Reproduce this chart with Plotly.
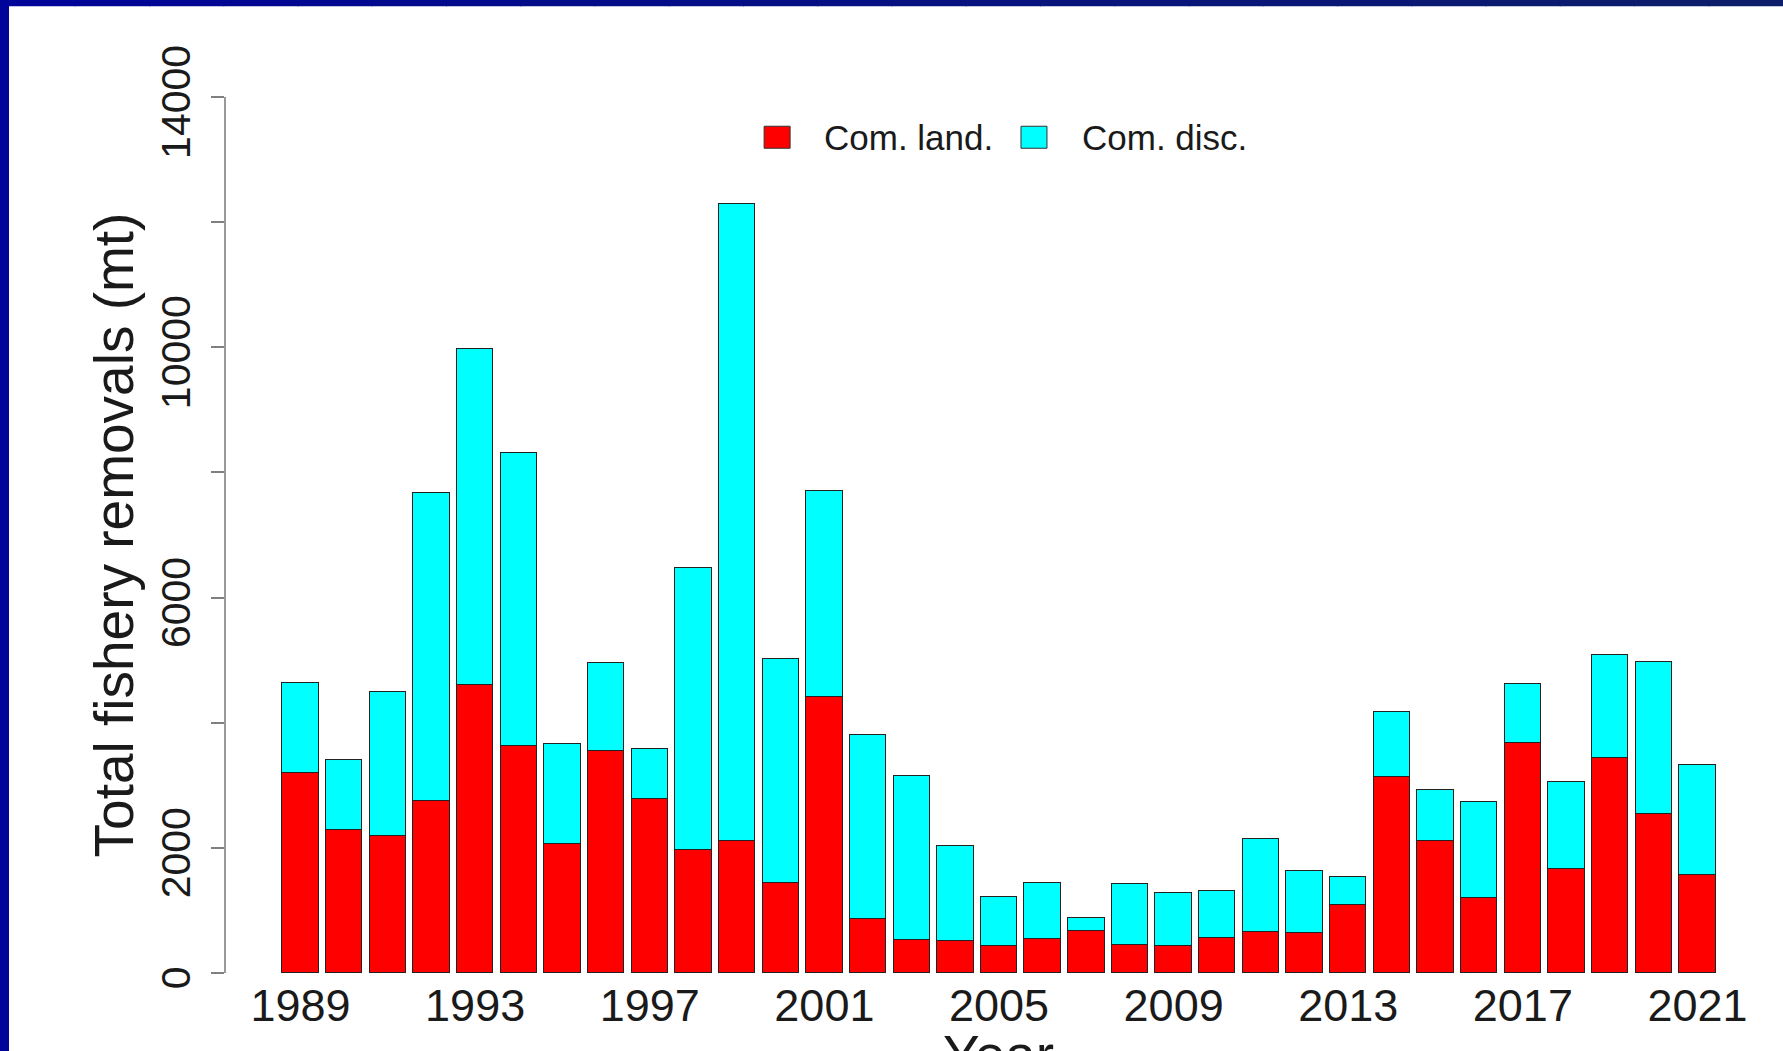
import plotly.graph_objects as go

# ---- data ----
years = list(range(1989, 2022))
com_land = [3200, 2290, 2185, 2750, 4605, 3630, 2055, 3545, 2783, 1962,
            2105, 1438, 4405, 868, 530, 508, 430, 547, 672, 449,
            430, 565, 652, 635, 1086, 3128, 2105, 1195, 3672, 1668,
            3429, 2543, 1560]
com_disc = [1430, 1110, 2305, 4920, 5375, 4680, 1610, 1405, 794, 4508,
            10185, 3584, 3295, 2942, 2620, 1514, 787, 891, 199, 972,
            847, 748, 1483, 990, 442, 1046, 821, 1533, 950, 1386,
            1649, 2422, 1758]
series_names = ["Com. land.", "Com. disc."]
series_colors = ["#FF0000", "#00FFFF"]
y_tickvals = [0, 2000, 4000, 6000, 8000, 10000, 12000, 14000]
y_ticktext = ["0", "2000", "", "6000", "", "10000", "", "14000"]
x_tickvals = [1989, 1993, 1997, 2001, 2005, 2009, 2013, 2017, 2021]
y_title = "Total fishery removals (mt)"
x_title = "Year"

# ---- layout geometry (pixels) ----
FW, FH = 1783, 1051
L, R, T, B = 224.6, 1773.4, 62.3, 1007.7
PW, PH = R - L, B - T
Y0, Y1 = -560, 14560


def px(x):
    return (x - L) / PW


def py(y):
    return (B - y) / PH


FONT = "Liberation Sans, Arial, Helvetica, sans-serif"
TXT = "#1a1a1a"

fig = go.Figure()
for name, vals, col in zip(series_names, [com_land, com_disc], series_colors):
    fig.add_trace(go.Bar(
        x=years, y=vals, name=name, width=1 / 1.2,
        marker=dict(color=col, line=dict(color="#222222", width=1.4)),
        showlegend=False,
    ))

shapes = []
# y axis line from 0 to 14000 (R style)
shapes.append(dict(type="line", xref="paper", yref="y", x0=0, x1=0,
                   y0=y_tickvals[0], y1=y_tickvals[-1],
                   line=dict(color="#808080", width=1.6)))

# blue slide border (top and left), with slight gradient along the top
n = 24
c0 = (0, 4, 152)
c1 = (12, 30, 106)
for i in range(n):
    f = i / (n - 1)
    c = tuple(int(round(c0[k] + (c1[k] - c0[k]) * f)) for k in range(3))
    xa = FW * i / n
    xb = FW * (i + 1) / n + 1
    shapes.append(dict(type="rect", xref="paper", yref="paper",
                       x0=px(xa), x1=px(xb), y0=py(6.5), y1=py(-2),
                       line=dict(width=0), fillcolor="rgb(%d,%d,%d)" % c,
                       layer="above"))
shapes.append(dict(type="rect", xref="paper", yref="paper",
                   x0=px(-2), x1=px(8.5), y0=py(FH + 2), y1=py(-2),
                   line=dict(width=0), fillcolor="rgb(0,4,152)", layer="above"))

# legend boxes
leg_y0, leg_y1 = 126.5, 148.5
for (xa, xb), col in zip([(764, 790), (1021, 1047)], series_colors):
    shapes.append(dict(type="rect", xref="paper", yref="paper",
                       x0=px(xa), x1=px(xb), y0=py(leg_y1), y1=py(leg_y0),
                       fillcolor=col, line=dict(color="#333333", width=1)))

annotations = []
for xs, name in zip([822, 1080], series_names):
    annotations.append(dict(text=name, xref="paper", yref="paper",
                            x=px(xs), y=py(137.5), xanchor="left",
                            yanchor="middle", showarrow=False,
                            font=dict(family=FONT, size=35, color=TXT)))
annotations.append(dict(text=y_title, xref="paper", yref="paper",
                        x=px(114), y=py(535), xanchor="center",
                        yanchor="middle", textangle=-90, showarrow=False,
                        font=dict(family=FONT, size=55, color=TXT)))
annotations.append(dict(text=x_title, xref="paper", yref="paper",
                        x=px(999), y=py(1022), xanchor="center",
                        yanchor="top", showarrow=False,
                        font=dict(family=FONT, size=55, color=TXT)))

fig.update_layout(
    width=FW, height=FH,
    margin=dict(l=L, r=FW - R, t=T, b=FH - B, pad=0),
    barmode="stack",
    bargap=0,
    paper_bgcolor="white",
    plot_bgcolor="white",
    showlegend=False,
    shapes=shapes,
    annotations=annotations,
    xaxis=dict(
        range=[1987.27, 2022.73],
        anchor="free", position=py(953.7),
        tickvals=x_tickvals, ticktext=[str(v) for v in x_tickvals],
        ticks="outside", ticklen=6, tickcolor="rgba(0,0,0,0)",
        ticklabelstandoff=6,
        showline=False, showgrid=False, zeroline=False,
        tickfont=dict(family=FONT, size=45, color=TXT),
    ),
    yaxis=dict(
        range=[Y0, Y1],
        tickvals=y_tickvals, ticktext=y_ticktext,
        tickangle=-90,
        ticks="outside", ticklen=13, tickwidth=1.6, tickcolor="#808080",
        ticklabelstandoff=5,
        ticklabelshift=11,
        showline=False, showgrid=False, zeroline=False,
        tickfont=dict(family=FONT, size=41, color=TXT),
    ),
)

fig.write_html(
    "out.html",
    config={"displayModeBar": False},
    post_script="document.body.style.margin='0px';"
                "document.body.style.overflow='hidden';",
)
